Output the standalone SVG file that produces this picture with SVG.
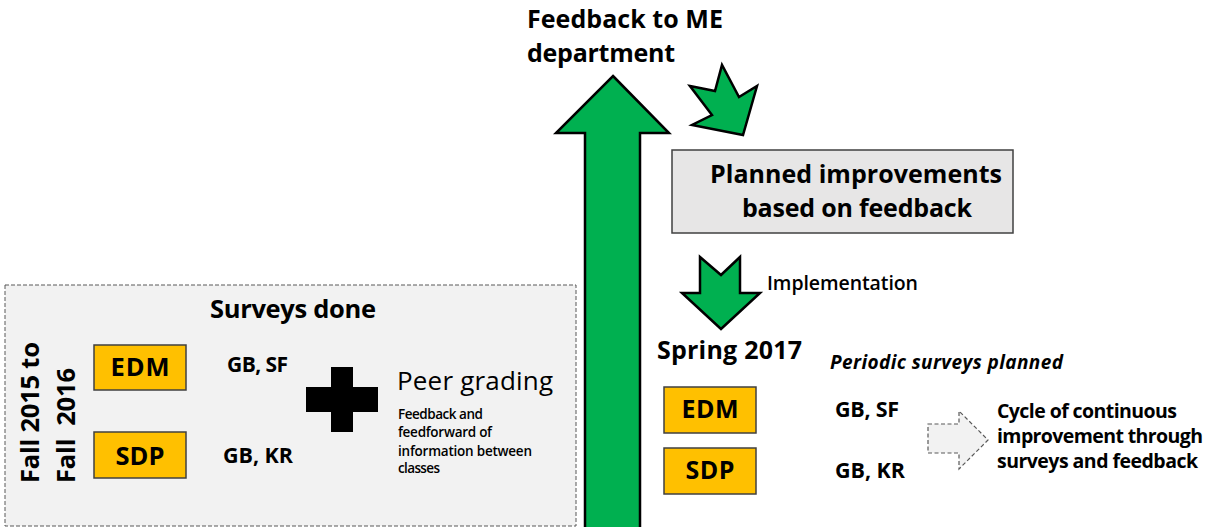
<svg xmlns="http://www.w3.org/2000/svg" width="1211" height="527" viewBox="0 0 1211 527">
<style>
text{font-family:"Open Sans","Liberation Sans",sans-serif;fill:#000;}
.b{font-weight:700;}
.sb{font-weight:600;}
.org{fill:#ffc000;stroke:#404040;stroke-width:1.5;}
.grn{fill:#00b050;stroke:#000;stroke-width:2.5;stroke-linejoin:miter;}
.mid{text-anchor:middle;}
</style>
<rect x="0" y="0" width="1211" height="527" fill="#fff"/>
<g id="surveys-panel">
<rect x="5" y="285" width="571" height="241" fill="#f2f2f2" stroke="#595959" stroke-width="1" stroke-dasharray="4,2"/>
<text class="b" x="210" y="318" font-size="25.5" textLength="166">Surveys done</text>
<text class="b" font-size="25.5" transform="translate(39,483) rotate(-90)" textLength="141">Fall 2015 to</text>
<text class="b" font-size="25.5" transform="translate(75,483) rotate(-90)" textLength="115" xml:space="preserve">Fall  2016</text>
</g>
<g id="edm-left">
<rect class="org" x="94" y="345" width="92" height="45"/>
<text class="b mid" x="140" y="376" font-size="25.5" textLength="59">EDM</text>
</g>
<g id="sdp-left">
<rect class="org" x="94" y="432" width="92" height="46"/>
<text class="b mid" x="140" y="465" font-size="25.5" textLength="49">SDP</text>
</g>
<g id="gbsf-left"><text class="b" x="227" y="372" font-size="21" textLength="61">GB, SF</text></g>
<g id="gbkr-left"><text class="b" x="223" y="463" font-size="21.5" textLength="70">GB, KR</text></g>
<g id="plus">
<path d="M331,367 H353 V387 H378 V412 H353 V432 H331 V412 H306 V387 H331 Z" fill="#000"/>
</g>
<g id="peer-grading">
<text x="397" y="390" font-size="26" font-weight="500" textLength="156">Peer grading</text>
<text class="sb" x="398" y="419" font-size="13.5" textLength="85">Feedback and</text>
<text class="sb" x="398" y="437" font-size="13.5" textLength="94">feedforward of</text>
<text class="sb" x="398" y="456" font-size="13.5" textLength="134">information between</text>
<text class="sb" x="398" y="473" font-size="13.5" textLength="42">classes</text>
</g>
<g id="feedback-me">
<text class="b" x="527" y="28" font-size="25" textLength="196">Feedback to ME</text>
<text class="b" x="527" y="62" font-size="25" textLength="148">department</text>
</g>
<g id="planned">
<rect x="672" y="150" width="341" height="83" fill="#e7e6e6" stroke="#404040" stroke-width="1.5"/>
<text class="b mid" x="856" y="183" font-size="25" textLength="292">Planned improvements</text>
<text class="b mid" x="857" y="217" font-size="25" textLength="230">based on feedback</text>
</g>
<g id="spring">
<text class="b" x="657" y="359" font-size="25" textLength="145">Spring 2017</text>
<text class="b" x="830" y="369" font-size="19" font-style="italic" textLength="233">Periodic surveys planned</text>
</g>
<g id="edm-right">
<rect class="org" x="664" y="387" width="92" height="46"/>
<text class="b mid" x="710" y="418" font-size="25" textLength="57">EDM</text>
</g>
<g id="sdp-right">
<rect class="org" x="664" y="448" width="92" height="46"/>
<text class="b mid" x="710" y="479" font-size="25" textLength="49">SDP</text>
</g>
<g id="gbsf-right"><text class="b" x="835" y="417" font-size="21.5" textLength="64">GB, SF</text></g>
<g id="gbkr-right"><text class="b" x="835" y="478" font-size="21.5" textLength="70">GB, KR</text></g>
<g id="cycle">
<text class="b" x="997" y="418" font-size="19.5" textLength="180">Cycle of continuous</text>
<text class="b" x="997" y="443" font-size="19.5" textLength="206">improvement through</text>
<text class="b" x="997" y="468" font-size="19.5" textLength="201">surveys and feedback</text>
</g>
<g id="connectors">
<polygon class="grn" points="613,76 669,133 640,133 640,530 585,530 585,133 556,133"/>
<polygon class="grn" points="690,86 715,91 722,65 739,97 757,86 743,135 692,125 712,115"/>
<polygon class="grn" points="700,257 721,275 740,257 740,293 760,293 721,329 682,293 700,293"/>
<text class="sb" x="767" y="290" font-size="19.5" textLength="151">Implementation</text>
<polygon points="928,424 959,424 959,411 988,440 959,469 959,453 928,453" fill="#f2f2f2" stroke="#595959" stroke-width="1.2" stroke-dasharray="4,2.5"/>
</g>
</svg>
